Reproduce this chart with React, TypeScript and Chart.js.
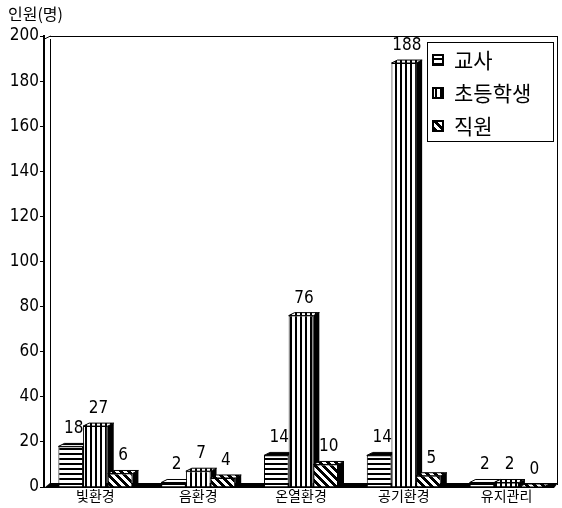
import React, { useEffect, useRef } from 'react';
import { Chart, registerables } from 'chart.js';

Chart.register(...registerables);

const categories = ['빛환경', '음환경', '온열환경', '공기환경', '유지관리'];
const seriesLabels = ['교사', '초등학생', '직원'];
const teacherValues = [18, 2, 14, 14, 2];
const studentValues = [27, 7, 76, 188, 2];
const staffValues = [6, 4, 10, 5, 0];
const yMin = 0;
const yMax = 200;
const yStep = 20;
const yAxisTitle = '인원(명)';

const NUM_FONT = "'Liberation Sans Narrow', 'DejaVu Sans Condensed', 'Liberation Sans', sans-serif";
const KR_FONT = "'Noto Sans CJK KR', 'Noto Sans', sans-serif";

function makePattern(kind: string): CanvasPattern | string {
  const c = document.createElement('canvas');
  const ctx = c.getContext('2d');
  if (!ctx) return '#000';
  if (kind === 'h') {
    c.width = 4; c.height = 5;
    ctx.fillStyle = '#fff'; ctx.fillRect(0, 0, 4, 5);
    ctx.fillStyle = '#000'; ctx.fillRect(0, 3, 4, 2);
  } else if (kind === 'v') {
    c.width = 5; c.height = 4;
    ctx.fillStyle = '#fff'; ctx.fillRect(0, 0, 5, 4);
    ctx.fillStyle = '#000'; ctx.fillRect(0, 0, 2, 4);
  } else {
    c.width = 8; c.height = 8;
    const img = ctx.createImageData(8, 8);
    for (let y = 0; y < 8; y++) {
      for (let x = 0; x < 8; x++) {
        const v = (((x - y) % 8) + 8) % 8 < 4 ? 0 : 255;
        const i = (y * 8 + x) * 4;
        img.data[i] = v; img.data[i + 1] = v; img.data[i + 2] = v; img.data[i + 3] = 255;
      }
    }
    ctx.putImageData(img, 0, 0);
  }
  return ctx.createPattern(c, 'repeat') as CanvasPattern;
}

const DX = 6;
const DY = 3;

const depthPlugin = {
  id: 'depth3d',
  beforeDatasetsDraw(chart: any) {
    const ctx = chart.ctx;
    ctx.save();
    chart.data.datasets.forEach((ds: any, di: number) => {
      const meta = chart.getDatasetMeta(di);
      meta.data.forEach((bar: any) => {
        const { x, y, base, width } = bar.getProps(['x', 'y', 'base', 'width'], true);
        const l = x - width / 2;
        const r = x + width / 2;
        ctx.beginPath();
        ctx.moveTo(r, y);
        ctx.lineTo(r + DX, y - DY);
        ctx.lineTo(r + DX, base - DY);
        ctx.lineTo(r, base);
        ctx.closePath();
        ctx.fillStyle = '#000';
        ctx.fill();
        ctx.beginPath();
        ctx.moveTo(l, y);
        ctx.lineTo(l + DX, y - DY);
        ctx.lineTo(r + DX, y - DY);
        ctx.lineTo(r, y);
        ctx.closePath();
        ctx.fillStyle = ds.backgroundColor;
        ctx.fill();
        ctx.strokeStyle = '#000';
        ctx.lineWidth = 1;
        ctx.stroke();
      });
    });
    ctx.restore();
  },
  afterDatasetsDraw(chart: any) {
    const ctx = chart.ctx;
    ctx.save();
    ctx.fillStyle = '#000';
    ctx.font = `17px ${NUM_FONT}`;
    ctx.textAlign = 'center';
    ctx.textBaseline = 'bottom';
    chart.data.datasets.forEach((ds: any, di: number) => {
      const meta = chart.getDatasetMeta(di);
      meta.data.forEach((bar: any, i: number) => {
        const { x, y } = bar.getProps(['x', 'y'], true);
        ctx.fillText(String(ds.data[i]), x + DX / 2, y - DY - 6);
      });
    });
    ctx.restore();
  },
};

const framePlugin = {
  id: 'frame',
  beforeDatasetsDraw(chart: any) {
    const { ctx, chartArea } = chart;
    const { left, right, top, bottom } = chartArea;
    ctx.save();
    ctx.strokeStyle = '#000';
    ctx.lineWidth = 1;
    ctx.beginPath();
    ctx.moveTo(left + 6.5, top + 3);
    ctx.lineTo(left + 6.5, bottom - 2);
    ctx.moveTo(left + 0.5, top + 3);
    ctx.lineTo(left + 6.5, top);
    ctx.moveTo(left + 6, top + 0.5);
    ctx.lineTo(right, top + 0.5);
    ctx.moveTo(right - 0.5, top);
    ctx.lineTo(right - 0.5, bottom - 2);
    ctx.stroke();
    ctx.fillStyle = '#000';
    ctx.beginPath();
    ctx.moveTo(left, bottom + 1);
    ctx.lineTo(left + 6, bottom - 4);
    ctx.lineTo(right, bottom - 4);
    ctx.lineTo(right - 4, bottom + 1);
    ctx.closePath();
    ctx.fill();
    ctx.restore();
  },
  afterDraw(chart: any) {
    const { ctx, chartArea } = chart;
    ctx.save();
    ctx.fillStyle = '#000';
    ctx.font = `16px ${KR_FONT}`;
    ctx.textAlign = 'left';
    ctx.textBaseline = 'top';
    ctx.fillText(yAxisTitle, 8, 6);
    const bw = 126;
    const bh = 99;
    const bx = chartArea.right - 5 - bw;
    const by = chartArea.top + 6;
    ctx.fillStyle = '#fff';
    ctx.fillRect(bx, by, bw, bh);
    ctx.strokeStyle = '#000';
    ctx.lineWidth = 1;
    ctx.strokeRect(bx + 0.5, by + 0.5, bw, bh);
    ctx.font = `21px ${KR_FONT}`;
    ctx.textBaseline = 'middle';
    chart.data.datasets.forEach((ds: any, i: number) => {
      const cy = by + 18 + i * 33;
      ctx.fillStyle = ds.backgroundColor;
      ctx.fillRect(bx + 6, cy - 5, 10, 10);
      ctx.strokeStyle = '#000';
      ctx.lineWidth = 2;
      ctx.strokeRect(bx + 6, cy - 5, 10, 10);
      ctx.fillStyle = '#000';
      ctx.fillText(ds.label, bx + 27, cy);
    });
    ctx.restore();
  },
};

export default function App() {
  const ref = useRef<HTMLCanvasElement | null>(null);
  useEffect(() => {
    if (!ref.current) return;
    const pats = [makePattern('h'), makePattern('v'), makePattern('d')];
    const values = [teacherValues, studentValues, staffValues];
    const chart = new Chart(ref.current, {
      type: 'bar',
      data: {
        labels: categories,
        datasets: seriesLabels.map((label, i) => ({
          label,
          data: values[i],
          backgroundColor: pats[i] as any,
          borderColor: '#000',
          borderWidth: 1,
          borderSkipped: 'start' as any,
          barPercentage: 1,
          categoryPercentage: 0.72,
        })),
      },
      options: {
        responsive: false,
        animation: false,
        layout: { padding: { top: 36, right: 4, left: 0, bottom: 0 } },
        plugins: {
          legend: { display: false },
          tooltip: { enabled: false },
          title: { display: false },
        },
        scales: {
          x: {
            grid: { display: false, drawTicks: false, tickLength: 0 },
            border: { display: false },
            ticks: {
              color: '#000',
              font: { family: KR_FONT, size: 14, lineHeight: 1 },
              padding: 2,
              maxRotation: 0,
            },
            afterFit(scale: any) { scale.height = 21; },
          },
          y: {
            min: yMin,
            max: yMax,
            grid: {
              display: true,
              drawOnChartArea: false,
              drawTicks: true,
              tickLength: 4,
              color: '#000',
            },
            border: { display: true, color: '#000', width: 2 },
            ticks: {
              stepSize: yStep,
              color: '#000',
              font: { family: NUM_FONT, size: 17 },
              padding: 1,
            },
            afterFit(scale: any) { scale.width = 44; },
          },
        },
      },
      plugins: [framePlugin, depthPlugin],
    });
    return () => chart.destroy();
  }, []);
  return (
    <div style={{ position: 'fixed', left: 0, top: 0, width: 562, height: 508, background: '#fff' }}>
      <canvas ref={ref} width={562} height={508} style={{ display: 'block' }} />
    </div>
  );
}
